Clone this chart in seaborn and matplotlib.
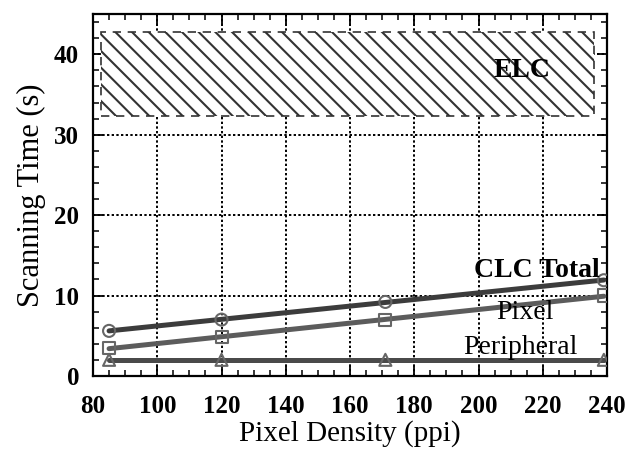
import matplotlib
matplotlib.use("Agg")
import matplotlib.pyplot as plt
import seaborn as sns
import numpy as np
import pandas as pd
from matplotlib.patches import Rectangle
from matplotlib.ticker import MultipleLocator

density = [85, 120, 171, 239]
clc_total = [5.6, 7.0, 9.2, 11.9]
pixel = [3.5, 4.8, 6.9, 10.0]
peripheral = [2.0, 2.0, 2.0, 2.0]
elc_x = (82.5, 236.0)
elc_y = (32.3, 42.8)
xticks = [80, 100, 120, 140, 160, 180, 200, 220, 240]
yticks = [0, 10, 20, 30, 40]

sns.set_style("ticks")
plt.rcParams['font.family'] = ['Liberation Serif', 'DejaVu Serif']
plt.rcParams['hatch.linewidth'] = 1.5
plt.rcParams['hatch.color'] = '#555555'
plt.rcParams['text.color'] = 'black'
plt.rcParams['axes.labelcolor'] = 'black'
plt.rcParams['xtick.color'] = 'black'
plt.rcParams['ytick.color'] = 'black'

fig = plt.figure(figsize=(6.37, 4.54), dpi=100)
ax = fig.add_axes([0.146, 0.172, 0.807, 0.797])

df = pd.DataFrame({'x': density, 'total': clc_total, 'pixel': pixel, 'periph': peripheral})

series = [('total', '#3c3c3c', 'o'), ('pixel', '#5c5c5c', 's'), ('periph', '#4a4a4a', '^')]
for col, color, mk in series:
    sns.regplot(data=df, x='x', y=col, ax=ax, ci=None, scatter=False,
                line_kws=dict(color=color, lw=3.6, zorder=3))
    sns.scatterplot(data=df, x='x', y=col, ax=ax, marker=mk, s=75,
                    facecolors='none', edgecolor='#666666', linewidth=1.5, zorder=4)

# ELC region
rect = Rectangle((elc_x[0], elc_y[0]), elc_x[1] - elc_x[0], elc_y[1] - elc_y[0],
                 facecolor='white', edgecolor='#333333', hatch='\\\\',
                 linestyle=(0, (5, 4)), linewidth=1.2, joinstyle='miter', zorder=2)
ax.add_patch(rect)

fs = 20
ax.text(213.5, 38.0, 'ELC', fontsize=fs, fontweight='bold', ha='center', va='center', zorder=5)
ax.text(218, 13.1, 'CLC Total', fontsize=fs, fontweight='bold', ha='center', va='center', zorder=5)
ax.text(214.5, 7.9, 'Pixel', fontsize=fs, ha='center', va='center', zorder=5)
ax.text(213, 3.5, 'Peripheral', fontsize=fs, ha='center', va='center', zorder=5)

ax.set_xlim(80, 240)
ax.set_ylim(0, 45)
ax.set_xticks(xticks)
ax.set_yticks(yticks)
ax.xaxis.set_minor_locator(MultipleLocator(5))
ax.yaxis.set_minor_locator(MultipleLocator(2))
ax.tick_params(which='both', direction='in', top=True, right=True, color='black')
ax.tick_params(which='major', length=7, width=1.3, labelsize=18, pad=10)
ax.tick_params(axis='x', which='major', pad=14)
ax.tick_params(which='minor', length=4, width=1.1)
for lbl in ax.get_xticklabels() + ax.get_yticklabels():
    lbl.set_fontweight('bold')

ax.grid(True, which='major', color='black', linestyle=(0, (1.2, 1.2)), linewidth=1.4, zorder=1)
ax.set_axisbelow(True)
for s in ax.spines.values():
    s.set_linewidth(1.6)
    s.set_color('black')

ax.set_xlabel('Pixel Density (ppi)', fontsize=21, labelpad=1)
ax.set_ylabel('Scanning Time (s)', fontsize=22, labelpad=6)

fig.savefig('out.png', dpi=100)
